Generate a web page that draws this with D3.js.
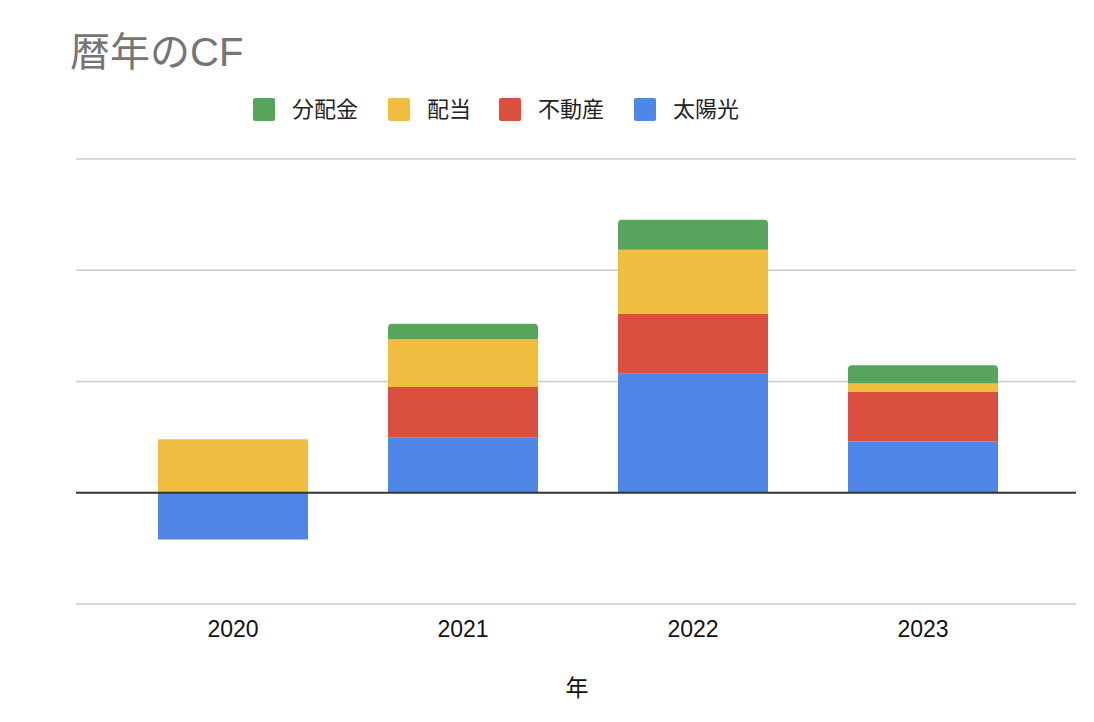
<!DOCTYPE html>
<html><head><meta charset="utf-8">
<script src="https://cdn.jsdelivr.net/npm/d3@7"></script>
<style>body{margin:0;background:#fff;}svg{display:block;}</style>
</head><body>
<svg id="c" width="1094" height="722"></svg>
<script>
const years = ["2020","2021","2022","2023"];
const seriesNames = ["太陽光","不動産","配当","分配金"];
const solar = [-0.42, 0.50, 1.07, 0.46];
const realEstate = [0, 0.45, 0.54, 0.45];
const dividend = [0.48, 0.43, 0.575, 0.072];
const distribution = [0, 0.14, 0.27, 0.165];
const yTicks = [-1, 0, 1, 2, 3];
const legendOrder = ["分配金","配当","不動産","太陽光"];
const colors = {"太陽光":"#4f86e8","不動産":"#db4f3f","配当":"#f0bd41","分配金":"#57a55d"};

const rows = years.map((y,i)=>({year:y,"太陽光":solar[i],"不動産":realEstate[i],"配当":dividend[i],"分配金":distribution[i]}));
const stacked = d3.stack().keys(seriesNames).offset(d3.stackOffsetDiverging)(rows);

const svg = d3.select("#c");
const fontJP = "'Liberation Sans','Noto Sans CJK JP',Arial,sans-serif";

const x = d3.scaleBand().domain(years).range([118,1038]).paddingInner(0.3478).paddingOuter(0.1739);
const y = d3.scaleLinear().domain([-1,3]).range([604,159]);

// gridlines
svg.append("g").selectAll("line").data(yTicks.filter(t=>t!==0)).join("line")
  .attr("x1",76).attr("x2",1076).attr("y1",d=>y(d)).attr("y2",d=>y(d))
  .attr("stroke","#cccccc").attr("stroke-width",1.5);

// bars
const r = 4;
stacked.forEach(s=>{
  const key = s.key;
  svg.append("g").selectAll("path").data(s).join("path")
    .attr("fill",colors[key])
    .attr("d",d=>{
      const v = d.data[key];
      if (!v) return "";
      const x0 = x(d.data.year), w = x.bandwidth();
      const yt = y(Math.max(d[0],d[1])), yb = y(Math.min(d[0],d[1]));
      const h = yb-yt;
      if (key==="分配金") {
        return `M${x0},${yb} L${x0},${yt+r} Q${x0},${yt} ${x0+r},${yt} L${x0+w-r},${yt} Q${x0+w},${yt} ${x0+w},${yt+r} L${x0+w},${yb} Z`;
      }
      return `M${x0},${yt} h${w} v${h} h${-w} Z`;
    });
});

// zero line
svg.append("line").attr("x1",76).attr("x2",1076).attr("y1",y(0)).attr("y2",y(0))
  .attr("stroke","#333333").attr("stroke-width",2);

// x axis labels
const xAxis = d3.axisBottom(x).tickSize(0).tickPadding(0);
const gx = svg.append("g").attr("transform","translate(0,637)").call(xAxis);
gx.select(".domain").remove();
gx.selectAll("text").attr("font-family","'Liberation Sans',Arial,sans-serif").attr("font-size",23).attr("fill","#111").attr("dy",0);

// axis title
svg.append("text").attr("x",577).attr("y",696).attr("text-anchor","middle")
  .attr("font-family",fontJP).attr("font-size",23).attr("fill","#111").text("年");

// chart title
svg.append("text").attr("x",70).attr("y",66)
  .attr("font-family",fontJP).attr("font-size",40).attr("fill","#757575").text("暦年のCF");

// legend
const legX = [253, 388, 499, 634];
const lg = svg.append("g").selectAll("g").data(legendOrder).join("g")
  .attr("transform",(d,i)=>`translate(${legX[i]},98)`);
lg.append("rect").attr("width",22).attr("height",23).attr("rx",2).attr("fill",d=>colors[d]);
lg.append("text").attr("x",39).attr("y",19).attr("font-family",fontJP).attr("font-size",22)
  .attr("fill","#222").text(d=>d);
</script>
</body></html>
